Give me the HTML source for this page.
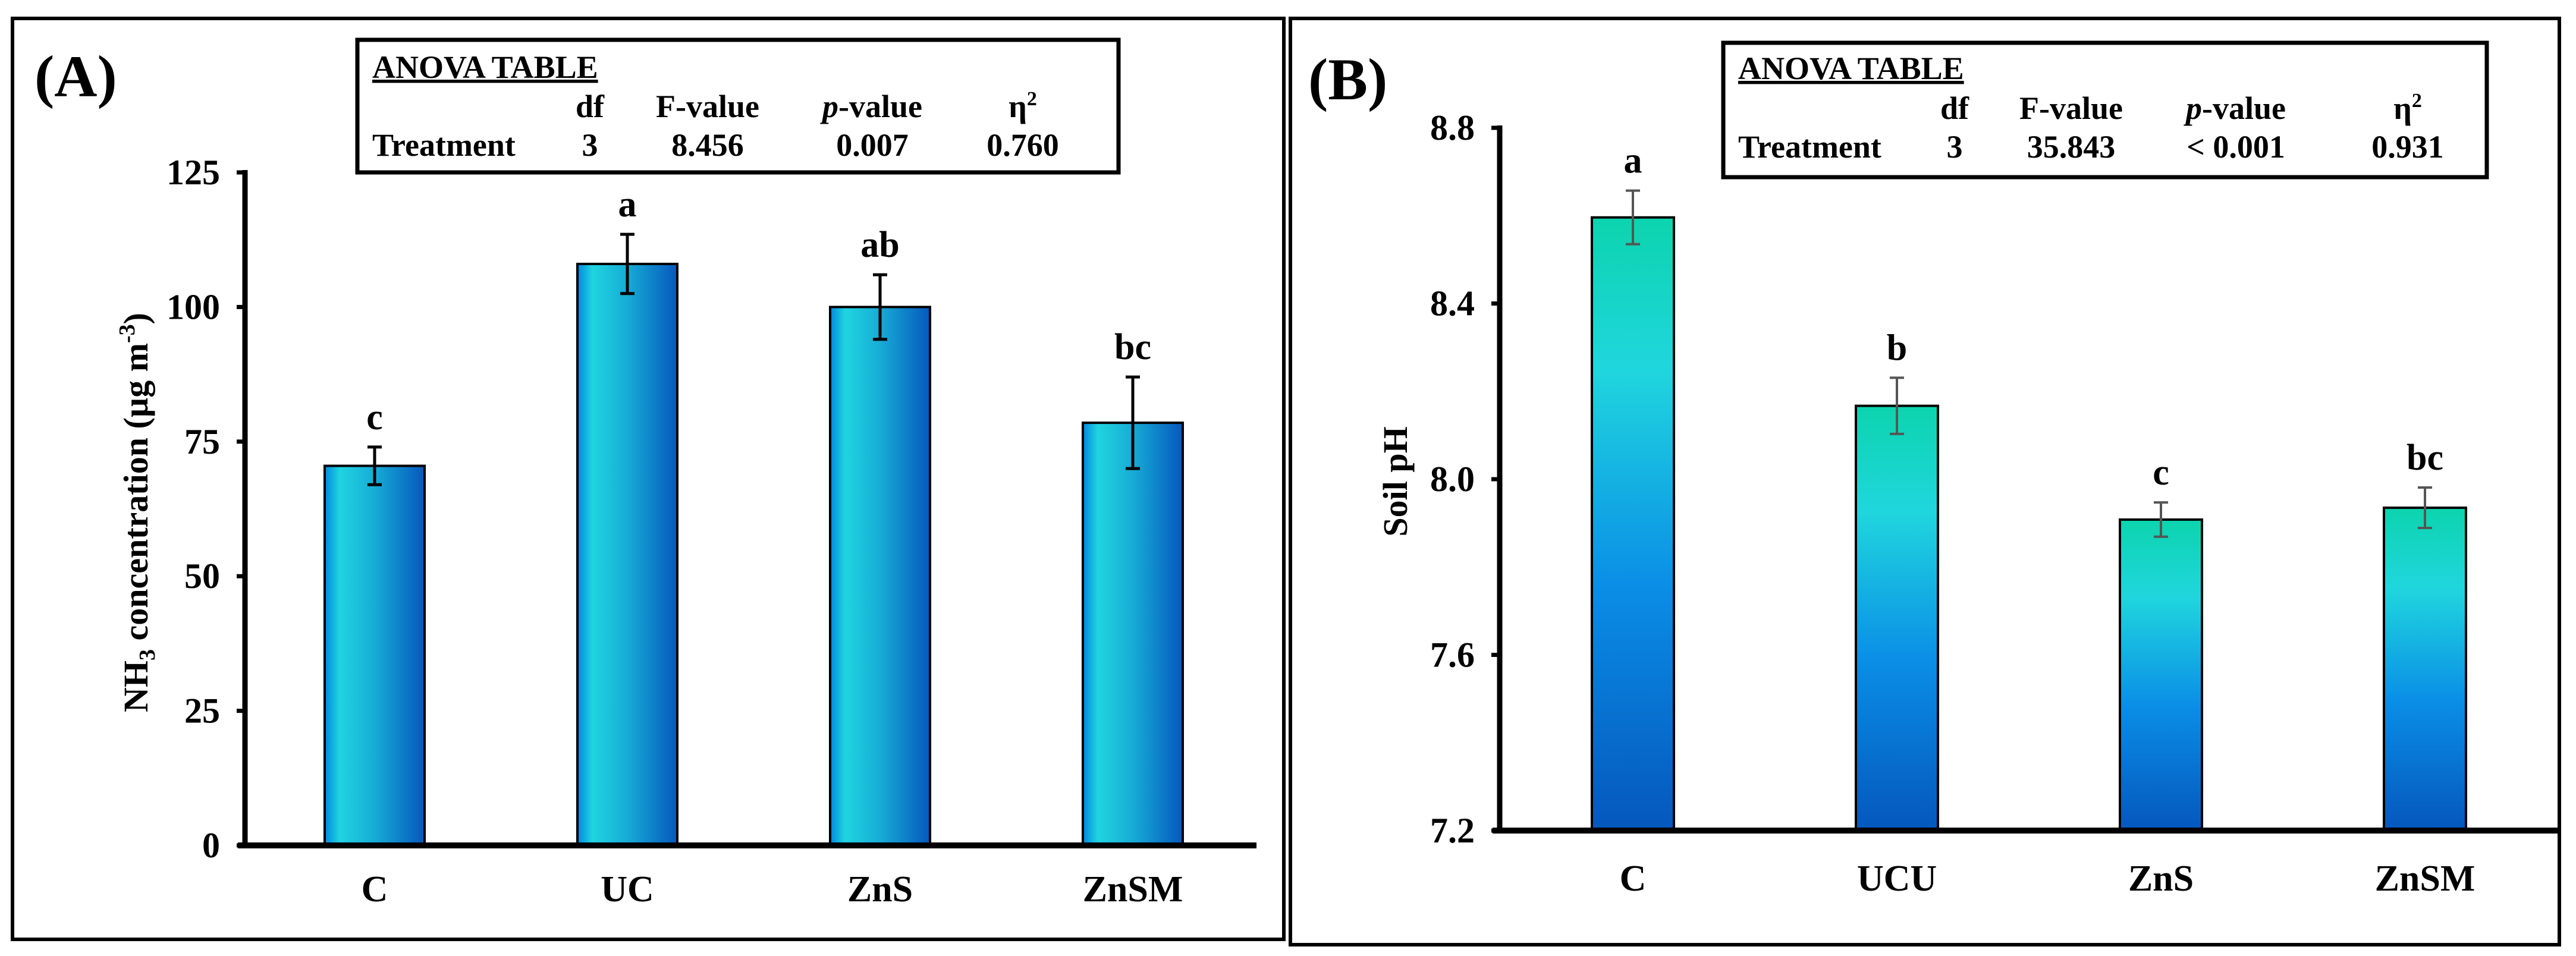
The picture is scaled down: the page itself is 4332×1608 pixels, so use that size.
<!DOCTYPE html>
<html><head><meta charset="utf-8"><style>
html,body{margin:0;padding:0;background:#fff}
svg{display:block}
text{font-family:"Liberation Serif",serif;font-weight:bold;fill:#000}
</style></head><body>
<svg id="fig" width="4332" height="1608" viewBox="0 0 4332 1608" xmlns="http://www.w3.org/2000/svg">
<defs>
<linearGradient id="gA" x1="0" y1="0" x2="1" y2="0">
<stop offset="0" stop-color="#0088e0"/><stop offset="0.15" stop-color="#20d4e0"/><stop offset="0.5" stop-color="#17acd6"/><stop offset="1" stop-color="#0558bd"/>
</linearGradient>
<linearGradient id="gB" x1="0" y1="0" x2="0" y2="1">
<stop offset="0" stop-color="#0cd4ae"/><stop offset="0.25" stop-color="#20d6de"/><stop offset="0.6" stop-color="#0a8ee6"/><stop offset="1" stop-color="#0557bd"/>
</linearGradient>
</defs>
<rect x="21" y="31" width="2138" height="1549" fill="none" stroke="#000" stroke-width="6"/>
<rect x="2170" y="31" width="2134" height="1558" fill="none" stroke="#000" stroke-width="6"/>
<g id="pa"></g>
<g id="pb"></g>
</svg>
<script>
const catsA = ["C","UC","ZnS","ZnSM"];
const valsA = [70.5, 108, 100, 78.5];
const errA = [3.5, 5.5, 6, 8.5];
const letA = ["c","a","ab","bc"];
const ticksA = [0,25,50,75,100,125];
const anovaA = ["3","8.456","0.007","0.760"];

const catsB = ["C","UCU","ZnS","ZnSM"];
const valsB = [8.596, 8.167, 7.908, 7.935];
const errB = [0.061, 0.064, 0.039, 0.046];
const letB = ["a","b","c","bc"];
const ticksB = [7.2,7.6,8.0,8.4,8.8];
const tickLabB = ["7.2","7.6","8.0","8.4","8.8"];
const anovaB = ["3","35.843","< 0.001","0.931"];

const NS="http://www.w3.org/2000/svg";
function mk(parent, tag, attrs, txt){
  const e=document.createElementNS(NS,tag);
  for(const k in attrs) e.setAttribute(k,attrs[k]);
  if(txt!==undefined) e.textContent=txt;
  parent.appendChild(e); return e;
}

function panel(g, o){
  const y=v=>o.y0+(v-o.vmin)/(o.vmax-o.vmin)*(o.y1-o.y0);
  const x=i=>o.c0+i*o.step;
  o.vals.forEach((v,i)=>{
    const r=mk(g,'rect',{x:x(i)-o.bw/2,y:y(v),width:o.bw,height:y(o.vmin)-y(v),fill:o.fill,stroke:'#000','stroke-width':4});
    
    
    const eg=mk(g,'g',{stroke:o.ecol,'stroke-width':o.ew});
    
    
    const t=y(v+o.errs[i]), b=y(v-o.errs[i]);
    mk(eg,'line',{x1:x(i),x2:x(i),y1:t,y2:b});
    mk(eg,'line',{x1:x(i)-12,x2:x(i)+12,y1:t,y2:t});
    mk(eg,'line',{x1:x(i)-12,x2:x(i)+12,y1:b,y2:b});
    const lt=mk(g,'text',{x:x(i),y:t-30,'text-anchor':'middle','font-size':62},o.lets[i]);
    
    
    const cl=mk(g,'text',{x:x(i),y:o.catY,'text-anchor':'middle','font-size':62},o.cats[i]);
    
    
  });
  const ax=mk(g,'g',{stroke:'#000'});
  
  
  mk(ax,'line',{x1:o.ax,x2:o.ax,y1:o.y1-4,y2:o.y0+4,'stroke-width':9});
  mk(ax,'line',{x1:o.ax-12,x2:o.xEnd,y1:o.y0,y2:o.y0,'stroke-width':10});
  o.ticks.forEach((v,i)=>{
    mk(ax,'line',{x1:o.ax-14,x2:o.ax,y1:y(v),y2:y(v),'stroke-width':7});
    const tl=mk(g,'text',{x:o.ax-42,y:y(v)+20,'text-anchor':'end','font-size':60},o.tickLab[i]);
    
    
  });
}

const pa=document.getElementById('pa'), pb=document.getElementById('pb');
panel(pa,{vmin:0,vmax:125,y0:1422,y1:290,c0:630,step:425,bw:168,ax:412,xEnd:2113,catY:1516,
  vals:valsA,errs:errA,lets:letA,cats:catsA,ticks:ticksA,tickLab:ticksA.map(String),fill:'url(#gA)',ecol:'#000',ew:5});
panel(pb,{vmin:7.2,vmax:8.8,y0:1397,y1:215,c0:2746,step:444,bw:138,ax:2522,xEnd:4304,catY:1498,
  vals:valsB,errs:errB,lets:letB,cats:catsB,ticks:ticksB,tickLab:tickLabB,fill:'url(#gB)',ecol:'#555',ew:4});

function anova(g, bx, by, bw, bh, tx, cols, rowY, vals, name){
  const ag=mk(g,'g',{});
  
  
  mk(ag,'rect',{x:bx,y:by,width:bw,height:bh,fill:'#fff',stroke:'#000','stroke-width':7});
  mk(ag,'text',{x:tx,y:rowY[0],'font-size':54,'text-decoration':'underline'},'ANOVA TABLE');
  const hd=['df','F-value','p-value','η'];
  hd.forEach((h,i)=>{
    const t=mk(ag,'text',{x:cols[i],y:rowY[1],'text-anchor':'middle','font-size':54});
    if(h==='p-value'){mk(t,'tspan',{'font-style':'italic'},'p');mk(t,'tspan',{},'-value');}
    else if(h==='η'){mk(t,'tspan',{},'η');mk(t,'tspan',{dy:-20,'font-size':34},'2');}
    else t.textContent=h;
  });
  mk(ag,'text',{x:tx,y:rowY[2],'font-size':54},'Treatment');
  vals.forEach((v,i)=>mk(ag,'text',{x:cols[i],y:rowY[2],'text-anchor':'middle','font-size':54},v));
}
anova(pa,601,67,1280,223,626,[992,1190,1467,1720],[131,197,262],anovaA,'anova-table-a');
anova(pb,2898,72,1284,226,2923,[3287,3483,3760,4049],[133,200,265],anovaB,'anova-table-b');

let t=mk(pa,'text',{x:58,y:162,'font-size':100},'(A)');
 
t=mk(pb,'text',{x:2200,y:167,'font-size':100},'(B)');
 

t=mk(pa,'text',{x:0,y:0,'text-anchor':'middle','font-size':58,transform:'translate(248,862) rotate(-90)'});
 
mk(t,'tspan',{},'NH');mk(t,'tspan',{dy:12,'font-size':38},'3');mk(t,'tspan',{dy:-12},' concentration (µg m');mk(t,'tspan',{dy:-22,'font-size':38},'-3');mk(t,'tspan',{dy:22},')');

t=mk(pb,'text',{x:0,y:0,'text-anchor':'middle','font-size':58,transform:'translate(2366,810) rotate(-90)'},'Soil pH');
 
</script>
</body></html>
